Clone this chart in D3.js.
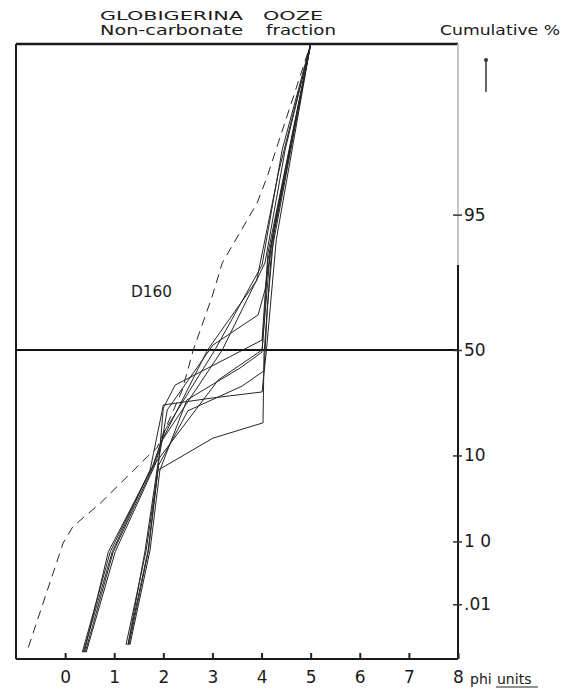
<!DOCTYPE html>
<html>
<head>
<meta charset="utf-8">
<script src="https://d3js.org/d3.v7.min.js"></script>
<style>
  body { margin: 0; background: #fff; }
  text { font-family: "DejaVu Sans", sans-serif; fill: #1a1a1a; }
  .curve { fill: none; stroke: #262626; stroke-width: 1; stroke-linejoin: round; }
</style>
</head>
<body>
<script>
// phi units on x, cumulative percent on y (probability scale)
var xTicks = [0, 1, 2, 3, 4, 5, 6, 7, 8];
var yTicks = [95, 50, 10, 1, 0.1];
var yTickLabels = ["95", "50", "10", "1 0", ".01"];

// each sample: [phi, cumulative %]
var sample01 = [[0.35, 0.012], [0.92, 0.71], [1.73, 7.2], [2.0, 25.2], [3.0, 28.0], [4.01, 30.5], [4.1, 50], [4.3, 91], [5, 99.99]];
var sample02 = [[1.28, 0.017], [1.69, 0.75], [1.89, 7.2], [3.01, 14.2], [4.03, 18.8], [4.05, 48], [4.2, 88], [5, 99.99]];
var sample03 = [[0.39, 0.012], [0.88, 0.71], [1.77, 7.6], [2.04, 16.6], [3.05, 50], [4.01, 84.9], [4.42, 99.25], [5, 99.99]];
var sample04 = [[0.43, 0.012], [1.02, 0.71], [1.83, 8.1], [1.98, 13.7], [3.2, 50], [4.07, 85.5], [4.48, 99.25], [5, 99.99]];
var sample05 = [[1.28, 0.017], [1.63, 0.75], [1.87, 7.2], [2.08, 23.3], [3.01, 52.4], [3.93, 66.5], [4.07, 76.7], [4.28, 94.3], [5, 99.99]];
var sample06 = [[1.32, 0.017], [1.73, 0.75], [1.93, 7.2], [2.48, 27.2], [3.56, 41.3], [4.01, 49], [4.13, 86.3], [5, 99.99]];
var sample07 = [[0.37, 0.012], [0.96, 0.71], [1.73, 7.2], [3.12, 35.8], [4.01, 50], [4.18, 88.8], [5, 99.99]];
var sample08 = [[1.24, 0.017], [1.65, 0.75], [1.89, 7.2], [2.0, 24], [2.24, 33.5], [4.01, 54.8], [4.13, 88], [5, 99.99]];
var sample09 = [[0.41, 0.012], [0.98, 0.71], [1.78, 7.5], [1.95, 13], [2.9, 50], [3.9, 80], [4.35, 98.5], [5, 99.99]];
var sample10 = [[1.3, 0.017], [1.7, 0.75], [1.9, 8], [2.5, 23], [3.6, 33], [4.05, 40], [4.12, 70], [4.25, 92], [5, 99.99]];
var dashedSample = [[-0.75, 0.015], [-0.04, 0.95], [0.16, 1.6], [0.71, 3.1], [1.67, 9.7], [1.87, 11.7], [2.38, 31], [2.61, 50], [2.99, 74], [3.2, 85.5], [3.91, 96.3], [4.11, 98.2], [5, 99.99]];

var solidSamples = [sample01, sample02, sample03, sample04, sample05, sample06, sample07, sample08, sample09, sample10];

var width = 571, height = 690,
    plotLeft = 16, plotRight = 458, plotTop = 44, plotBottom = 659;

// inverse normal cdf (Acklam)
function probit(p) {
  var a = [-3.969683028665376e+01, 2.209460984245205e+02, -2.759285104469687e+02, 1.383577518672690e+02, -3.066479806614716e+01, 2.506628277459239e+00],
      b = [-5.447609879822406e+01, 1.615858368580409e+02, -1.556989798598866e+02, 6.680131188771972e+01, -1.328068155288572e+01],
      c = [-7.784894002430293e-03, -3.223964580411365e-01, -2.400758277161838e+00, -2.549732539343734e+00, 4.374664141464968e+00, 2.938163982698783e+00],
      d = [7.784695709041462e-03, 3.224671290700398e-01, 2.445134137142996e+00, 3.754408661907416e+00];
  var q, r;
  if (p < 0.02425) {
    q = Math.sqrt(-2 * Math.log(p));
    return (((((c[0]*q+c[1])*q+c[2])*q+c[3])*q+c[4])*q+c[5]) / ((((d[0]*q+d[1])*q+d[2])*q+d[3])*q+1);
  } else if (p <= 1 - 0.02425) {
    q = p - 0.5; r = q * q;
    return (((((a[0]*r+a[1])*r+a[2])*r+a[3])*r+a[4])*r+a[5])*q / (((((b[0]*r+b[1])*r+b[2])*r+b[3])*r+b[4])*r+1);
  }
  q = Math.sqrt(-2 * Math.log(1 - p));
  return -(((((c[0]*q+c[1])*q+c[2])*q+c[3])*q+c[4])*q+c[5]) / ((((d[0]*q+d[1])*q+d[2])*q+d[3])*q+1);
}

var x = d3.scaleLinear().domain([-1, 8]).range([plotLeft, plotRight]);
var z = d3.scaleLinear().domain([-3.755, 3.718]).range([plotBottom, plotTop]);
function y(pct) { return z(probit(pct / 100)); }

var svg = d3.select('body').append('svg')
    .attr('width', width)
    .attr('height', height);

// frame
svg.append('line').attr('x1', plotLeft).attr('x2', plotRight).attr('y1', plotTop).attr('y2', plotTop)
    .attr('stroke', '#1a1a1a').attr('stroke-width', 2.5);
svg.append('line').attr('x1', plotLeft).attr('x2', plotLeft).attr('y1', plotTop).attr('y2', plotBottom)
    .attr('stroke', '#1a1a1a').attr('stroke-width', 2);
svg.append('line').attr('x1', plotRight).attr('x2', plotRight).attr('y1', plotTop).attr('y2', 265)
    .attr('stroke', '#c4c4c4').attr('stroke-width', 2);
svg.append('line').attr('x1', plotRight).attr('x2', plotRight).attr('y1', 265).attr('y2', plotBottom)
    .attr('stroke', '#1a1a1a').attr('stroke-width', 2);
svg.append('line').attr('x1', plotLeft).attr('x2', plotRight).attr('y1', plotBottom).attr('y2', plotBottom)
    .attr('stroke', '#1a1a1a').attr('stroke-width', 2.2);

// 50 % line
svg.append('line').attr('x1', plotLeft).attr('x2', plotRight).attr('y1', y(50)).attr('y2', y(50))
    .attr('stroke', '#111').attr('stroke-width', 2);

// x axis
var xAxis = d3.axisBottom(x).tickValues(xTicks).tickSize(-6).tickPadding(12);
var gx = svg.append('g').attr('transform', 'translate(0,' + plotBottom + ')').call(xAxis);
gx.select('.domain').remove();
gx.selectAll('line').attr('stroke', '#222').attr('stroke-width', 2);
gx.selectAll('text').attr('font-size', 17).attr('fill', '#1a1a1a');

// right axis
var yAxis = d3.axisRight(z)
    .tickValues(yTicks.map(function(p) { return probit(p / 100); }))
    .tickFormat(function(d, i) { return yTickLabels[i]; })
    .tickSize(9).tickPadding(2);
var gy = svg.append('g').attr('transform', 'translate(' + (plotRight - 5) + ',0)').call(yAxis);
gy.select('.domain').remove();
gy.selectAll('line').attr('stroke', '#333').attr('stroke-width', 1.5);
gy.selectAll('text').attr('font-size', 17).attr('fill', '#1a1a1a');

// curves
var line = d3.line()
    .x(function(d) { return x(d[0]); })
    .y(function(d) { return y(d[1]); });

svg.append('g').selectAll('path')
    .data(solidSamples)
    .enter()
    .append('path')
    .attr('class', 'curve')
    .attr('d', line);

svg.append('path')
    .datum(dashedSample)
    .attr('class', 'curve')
    .attr('stroke-dasharray', '9,6')
    .attr('stroke-width', 1.2)
    .attr('d', line);

// texts
function label(t, tx, ty, size, len) {
  var el = svg.append('text').attr('x', tx).attr('y', ty).attr('font-size', size).text(t);
  if (len) el.attr('textLength', len).attr('lengthAdjust', 'spacingAndGlyphs');
  return el;
}
label('GLOBIGERINA', 100, 20, 13, 143);
label('OOZE', 263, 20, 13, 60);
label('Non-carbonate', 100, 35, 13.5, 143);
label('fraction', 266, 35, 13.5, 70);
label('Cumulative %', 440, 35, 14, 120);
label('D160', 131, 297, 16, 41);
label('phi', 470, 684, 14);
label('units', 497, 684, 14);
svg.append('line').attr('x1', 496).attr('x2', 538).attr('y1', 687).attr('y2', 687)
    .attr('stroke', '#222').attr('stroke-width', 1.2);

// arrow by the cumulative % heading
svg.append('line').attr('x1', 486).attr('x2', 486).attr('y1', 60).attr('y2', 92)
    .attr('stroke', '#333').attr('stroke-width', 1.5);
svg.append('circle').attr('cx', 486).attr('cy', 60).attr('r', 2).attr('fill', '#333');
</script>
</body>
</html>
